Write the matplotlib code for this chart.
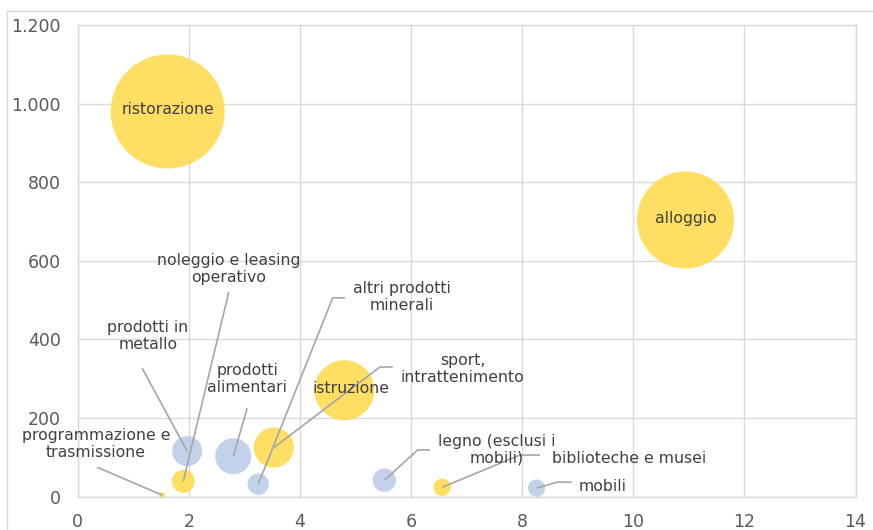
import numpy as np
import matplotlib.pyplot as plt
from matplotlib.ticker import FuncFormatter, MultipleLocator
from matplotlib.lines import Line2D

### DATA ###
settori = ['ristorazione', 'alloggio', 'istruzione', 'sport,\nintrattenimento',
           'prodotti in\nmetallo', 'prodotti\nalimentari', 'noleggio e leasing\noperativo',
           'altri prodotti\nminerali', 'programmazione e\ntrasmissione',
           'legno (esclusi i\nmobili)', 'biblioteche e musei', 'mobili']
x_val = [1.62, 10.94, 4.80, 3.53, 1.97, 2.80, 1.90, 3.25, 1.52, 5.52, 6.56, 8.26]
y_val = [980, 704, 271, 125, 116, 103, 39, 32, 4, 42, 24, 22]
peso = [3250, 2350, 900, 400, 225, 325, 132, 114, 9, 137, 75, 75]   # bubble area
gruppo = ['g', 'g', 'g', 'g', 'b', 'b', 'g', 'b', 'g', 'b', 'g', 'b']

### LABEL LAYOUT (data coords) ###
# (text x, text y, leader start x, leader start y, elbow x) ; None -> label on the bubble
etichette = [
    None,
    None,
    None,
    (6.93, 325, 5.67, 330, 5.44),
    (1.26, 408, 1.16, 327, None),
    (3.05, 300, 3.05, 225, None),
    (2.72, 579, 2.72, 521, None),
    (5.84, 508, 4.81, 506, 4.59),
    (0.33, 134, 0.35, 75, None),
    (7.55, 119, 6.34, 119, 6.12),
    (9.93, 96, 8.32, 106, 7.96),
    (9.44, 25, 8.89, 37, 8.63),
]

colori = {'g': '#FFDA4F', 'b': '#B4C7E7'}
alpha = {'g': 0.88, 'b': 0.8}

plt.rcParams['font.family'] = ['DejaVu Sans']

fig = plt.figure(figsize=[8.73, 5.30], dpi=100)
ax = fig.add_axes([0.089, 0.0628, 0.891, 0.89])

X, Y, P = np.array(x_val), np.array(y_val), np.array(peso)
for g in ['g', 'b']:
    m = np.array(gruppo) == g
    ax.scatter(X[m], Y[m], s=P[m] * 1.44**2, color=colori[g], alpha=alpha[g],
               edgecolors='none', zorder=3)

txt = '#404040'
for i, lab in enumerate(etichette):
    if lab is None:
        dx = 0.12 if settori[i] == 'istruzione' else 0.0
        ax.text(X[i] + dx, Y[i] + 5, settori[i], ha='center', va='center',
                fontsize=11.3, color=txt, zorder=5)
        continue
    tx, ty, lx, ly, ex = lab
    ax.text(tx, ty, settori[i], ha='center', va='center', fontsize=11.3,
            color=txt, linespacing=1.15, zorder=5)
    px = [lx] + ([ex] if ex is not None else []) + [X[i]]
    py = [ly] + ([ly] if ex is not None else []) + [Y[i]]
    ax.plot(px, py, color='#A6A6A6', lw=1.2, zorder=4, solid_capstyle='butt')

ax.set_xlim(0, 14)
ax.set_ylim(0, 1200)
ax.xaxis.set_major_locator(MultipleLocator(2))
ax.yaxis.set_major_locator(MultipleLocator(200))
ax.yaxis.set_major_formatter(FuncFormatter(lambda v, p: f'{v:,.0f}'.replace(',', '.')))
ax.grid(True, color='#D9D9D9', lw=1.0, zorder=0)
ax.set_axisbelow(True)
for s in ax.spines.values():
    s.set_color('#D9D9D9')
    s.set_linewidth(1.0)
ax.tick_params(length=0, labelsize=12.5, labelcolor='#595959', pad=12)
ax.tick_params(axis='x', pad=12)

# chart area border
fig.add_artist(Line2D([0.008, 1.0], [0.979, 0.979], color='#D9D9D9', lw=1.0))
fig.add_artist(Line2D([0.008, 0.008], [0.0, 0.979], color='#D9D9D9', lw=1.0))

fig.savefig('out.png', dpi=100)
